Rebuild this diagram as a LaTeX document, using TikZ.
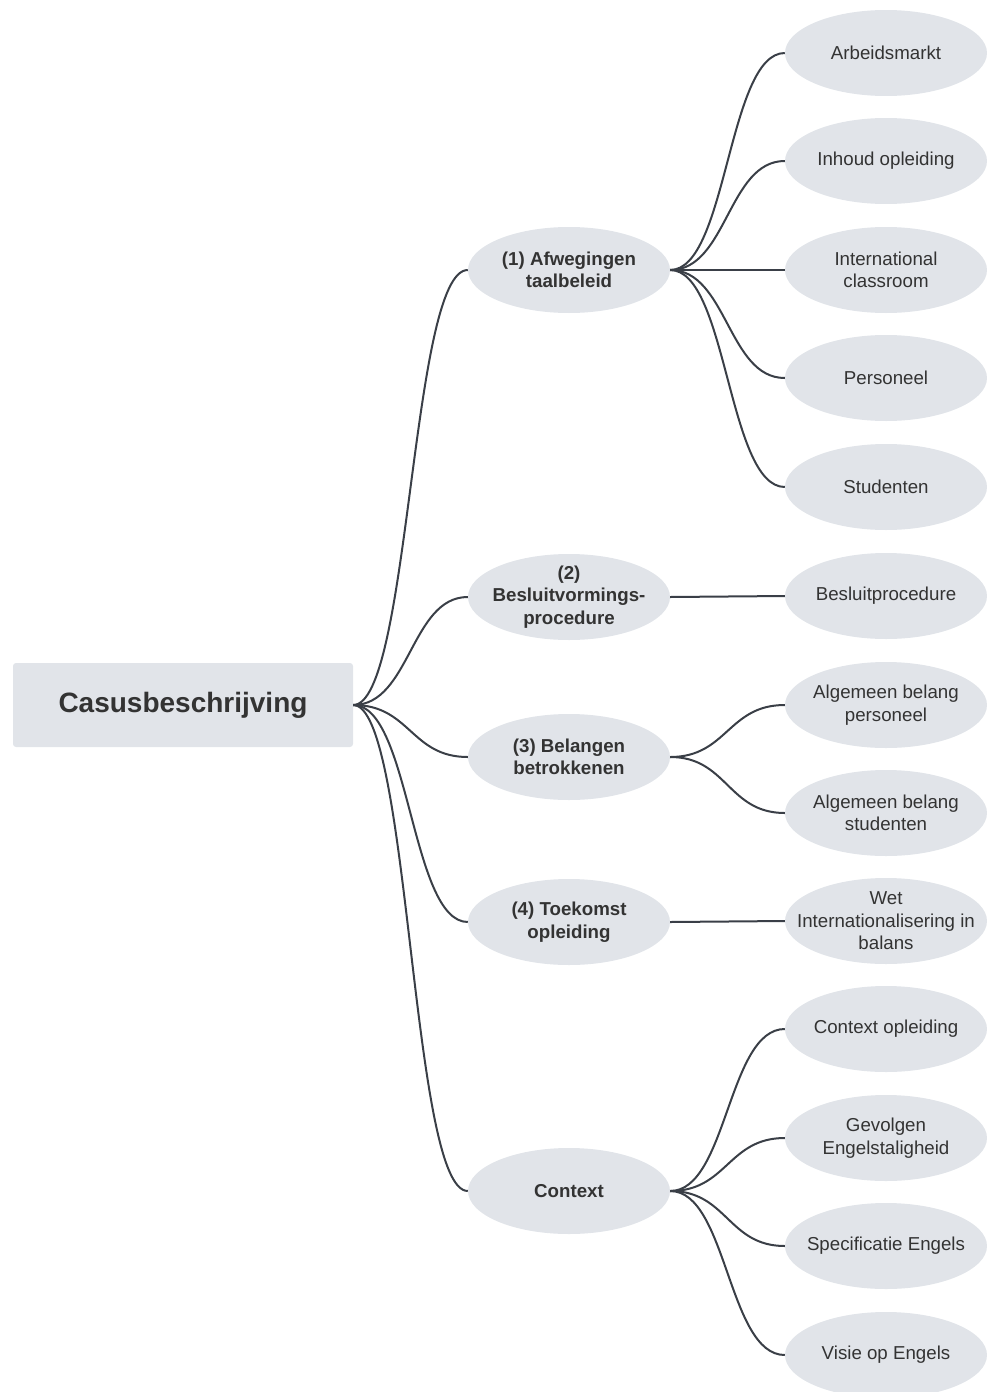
\documentclass[tikz,border=0pt]{standalone}
\usepackage{fontspec}
\setmainfont{Liberation Sans}
\definecolor{nodefill}{HTML}{E1E4E9}
\definecolor{txt}{HTML}{333333}
\definecolor{edgecol}{HTML}{3A3F47}
\begin{document}
\begin{tikzpicture}[x=1pt,y=-1pt,
  ell/.style={rectangle, minimum width=202pt, minimum height=86pt, inner sep=0pt,
    align=center, text=txt, font=\fontsize{18.7}{22.4}\selectfont,
    path picture={\fill[nodefill] (path picture bounding box.center) ellipse [x radius=101pt, y radius=43pt];}},
  lvlone/.style={ell, font=\fontsize{18.7}{22.4}\selectfont\bfseries},
  rootbox/.style={rectangle, fill=nodefill, rounded corners=3pt, minimum width=340pt, minimum height=84pt,
    text=txt, font=\fontsize{28}{33}\selectfont\bfseries},
  conn/.style={draw=edgecol, line width=2pt},
]
\useasboundingbox (0,0) rectangle (992,1392);

\node[rootbox] (root) at (183,705) {Casusbeschrijving};

\node[lvlone] (a) at (569,270) {(1) Afwegingen\\taalbeleid};
\node[lvlone] (b) at (569,597) {(2)\\Besluitvormings-\\procedure};
\node[lvlone] (c) at (569,757) {(3) Belangen\\betrokkenen};
\node[lvlone] (d) at (569,922) {(4) Toekomst\\opleiding};
\node[lvlone] (e) at (569,1191) {Context};

\node[ell] (a1) at (886,53) {Arbeidsmarkt};
\node[ell] (a2) at (886,161) {Inhoud opleiding};
\node[ell] (a3) at (886,270) {International\\classroom};
\node[ell] (a4) at (886,378) {Personeel};
\node[ell] (a5) at (886,487) {Studenten};
\node[ell] (b1) at (886,596) {Besluitprocedure};
\node[ell] (c1) at (886,705) {Algemeen belang\\personeel};
\node[ell] (c2) at (886,813) {Algemeen belang\\studenten};
\node[ell] (d1) at (886,921) {Wet\\Internationalisering in\\balans};
\node[ell] (e1) at (886,1029) {Context opleiding};
\node[ell] (e2) at (886,1138) {Gevolgen\\Engelstaligheid};
\node[ell] (e3) at (886,1246) {Specificatie Engels};
\node[ell] (e4) at (886,1355) {Visie op Engels};

\foreach \t in {a,b,c,d,e}
  \draw[conn] (root.east) .. controls +(57,0) and +(-57,0) .. (\t.west);
\foreach \s/\t in {a/a1,a/a2,a/a3,a/a4,a/a5,b/b1,c/c1,c/c2,d/d1,e/e1,e/e2,e/e3,e/e4}
  \draw[conn] (\s.east) .. controls +(57,0) and +(-57,0) .. (\t.west);
\end{tikzpicture}
\end{document}
